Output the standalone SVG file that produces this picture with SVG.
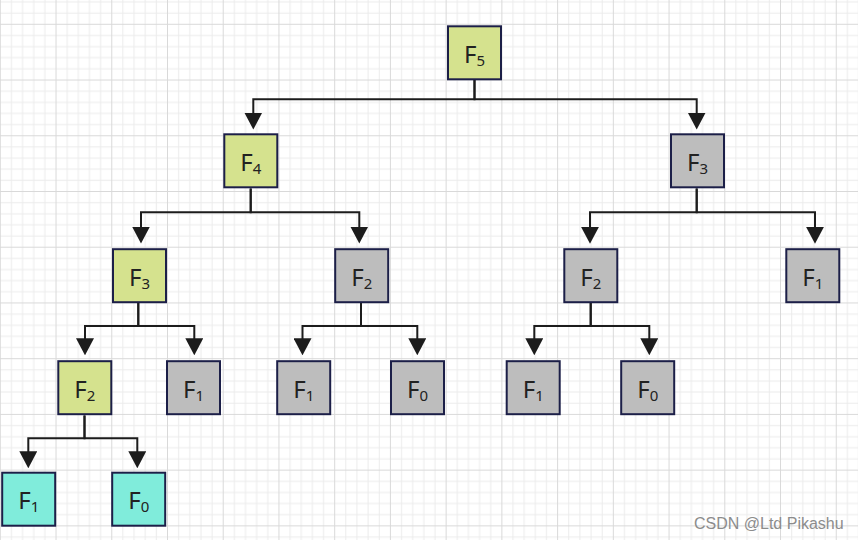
<svg xmlns="http://www.w3.org/2000/svg" width="858" height="540" viewBox="0 0 858 540">
  <defs>
    <pattern id="grid" patternUnits="userSpaceOnUse" x="-0.2" y="23.8" width="55.73" height="55.73">
      <path d="M11.646 0V55.73M22.792 0V55.73M33.938 0V55.73M45.084 0V55.73M0 11.646H55.73M0 22.792H55.73M0 33.938H55.73M0 45.084H55.73" stroke="#ebebeb" stroke-width="1" fill="none"/>
      <path d="M0 0V55.73M0 0H55.73" stroke="#d9d9d9" stroke-width="2" fill="none"/>
    </pattern>
    <marker id="arrow" markerUnits="userSpaceOnUse" viewBox="0 0 17 18" refX="9" refY="9" markerWidth="17" markerHeight="18" orient="auto">
      <polygon points="0,0 17,9 0,18" fill="#1c1c1c"/>
    </marker>
  </defs>
  <style>
    .box { stroke: #1c1f48; stroke-width: 2; }
    .y { fill: #d5e28e; }
    .g { fill: #bdbdbd; }
    .c { fill: #80ecdb; }
    .lbl { font-family: "Noto Sans", "Open Sans", sans-serif; font-size: 24px; fill: #222; text-anchor: middle; }
    .sub { font-size: 15px; }
    .edge { fill: none; stroke: #1c1c1c; stroke-width: 2; marker-end: url(#arrow); }
    .wm { font-family: "Liberation Sans", Arial, sans-serif; font-size: 16px; fill: #8c8c8c; }
  </style>
  <rect width="858" height="540" fill="#ffffff"/>
  <rect width="858" height="540" fill="url(#grid)"/>

  <g id="connectors">
    <path class="edge" d="M474.5 79.5V99.3H253.3V121.5"/>
    <path class="edge" d="M474.5 79.5V99.3H696.7V121.5"/>
    <path class="edge" d="M250.7 188.5V212.3H141V235.5"/>
    <path class="edge" d="M250.7 188.5V212.3H359.3V235.5"/>
    <path class="edge" d="M696.7 188.5V212.2H590V235.8"/>
    <path class="edge" d="M696.7 188.5V212.2H815V235.8"/>
    <path class="edge" d="M138.3 302.5V326H85V347.3"/>
    <path class="edge" d="M138.3 302.5V326H194.3V347.3"/>
    <path class="edge" d="M361 302.5V326H302.5V347.3"/>
    <path class="edge" d="M361 302.5V326H417.3V347.3"/>
    <path class="edge" d="M590.7 302.5V326H534.3V347.3"/>
    <path class="edge" d="M590.7 302.5V326H649.3V347.3"/>
    <path class="edge" d="M84.5 415.5V438.3H28.3V460.3"/>
    <path class="edge" d="M84.5 415.5V438.3H137.3V460.3"/>
  </g>

  <g id="n-f5">
    <rect class="box y" x="448" y="26.3" width="53" height="53"/>
    <text class="lbl" x="474.5" y="62.8">F<tspan class="sub" dy="3">5</tspan></text>
  </g>
  <g id="n-f4">
    <rect class="box y" x="224.3" y="134.3" width="53" height="53"/>
    <text class="lbl" x="250.8" y="170.8">F<tspan class="sub" dy="3">4</tspan></text>
  </g>
  <g id="n-f3r">
    <rect class="box g" x="671" y="134.3" width="53" height="53"/>
    <text class="lbl" x="697.5" y="170.8">F<tspan class="sub" dy="3">3</tspan></text>
  </g>
  <g id="n-f3l">
    <rect class="box y" x="113" y="249.2" width="53" height="53"/>
    <text class="lbl" x="139.5" y="285.7">F<tspan class="sub" dy="3">3</tspan></text>
  </g>
  <g id="n-f2b">
    <rect class="box g" x="335.2" y="249.2" width="53" height="53"/>
    <text class="lbl" x="361.7" y="285.7">F<tspan class="sub" dy="3">2</tspan></text>
  </g>
  <g id="n-f2c">
    <rect class="box g" x="564.3" y="249.2" width="53" height="53"/>
    <text class="lbl" x="590.8" y="285.7">F<tspan class="sub" dy="3">2</tspan></text>
  </g>
  <g id="n-f1d">
    <rect class="box g" x="786.3" y="249.2" width="53" height="53"/>
    <text class="lbl" x="812.8" y="285.7">F<tspan class="sub" dy="3">1</tspan></text>
  </g>
  <g id="n-f2a">
    <rect class="box y" x="58.3" y="361.2" width="53" height="53"/>
    <text class="lbl" x="84.8" y="397.7">F<tspan class="sub" dy="3">2</tspan></text>
  </g>
  <g id="n-f1b">
    <rect class="box g" x="167" y="361.2" width="53" height="53"/>
    <text class="lbl" x="193.5" y="397.7">F<tspan class="sub" dy="3">1</tspan></text>
  </g>
  <g id="n-f1c">
    <rect class="box g" x="277.2" y="361.2" width="53" height="53"/>
    <text class="lbl" x="303.7" y="397.7">F<tspan class="sub" dy="3">1</tspan></text>
  </g>
  <g id="n-f0d">
    <rect class="box g" x="391" y="361.2" width="53" height="53"/>
    <text class="lbl" x="417.5" y="397.7">F<tspan class="sub" dy="3">0</tspan></text>
  </g>
  <g id="n-f1e">
    <rect class="box g" x="506.7" y="361.2" width="53" height="53"/>
    <text class="lbl" x="533.2" y="397.7">F<tspan class="sub" dy="3">1</tspan></text>
  </g>
  <g id="n-f0f">
    <rect class="box g" x="621.2" y="361.2" width="53" height="53"/>
    <text class="lbl" x="647.7" y="397.7">F<tspan class="sub" dy="3">0</tspan></text>
  </g>
  <g id="n-f1a">
    <rect class="box c" x="2.2" y="472.7" width="53" height="53"/>
    <text class="lbl" x="28.7" y="509.2">F<tspan class="sub" dy="3">1</tspan></text>
  </g>
  <g id="n-f0a">
    <rect class="box c" x="112.2" y="472.7" width="53" height="53"/>
    <text class="lbl" x="138.7" y="509.2">F<tspan class="sub" dy="3">0</tspan></text>
  </g>

  <text class="wm" x="694" y="529.3">CSDN @Ltd Pikashu</text>
</svg>
